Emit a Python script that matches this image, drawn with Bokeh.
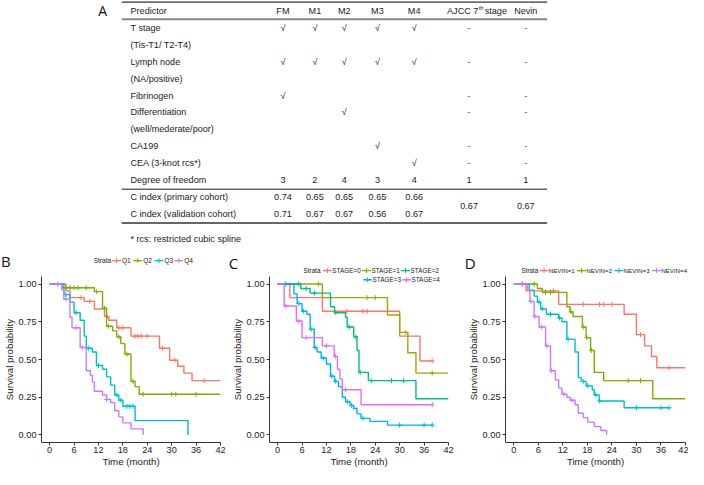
from bokeh.plotting import figure
from bokeh.models import Range1d, FixedTicker, NumeralTickFormatter
from bokeh.layouts import column, row
from bokeh.embed import file_html
from bokeh.resources import INLINE
from bokeh.core.properties import value

FONT = "Liberation Sans"
LETTER_FONT = "Open Sans"
INK = "#222222"

# ================= Panel A: model table =================
models = ["FM", "M1", "M2", "M3", "M4", "AJCC 7th stage", "Nevin"]
predictors = ["T stage", "(Tis-T1/ T2-T4)", "Lymph node", "(NA/positive)", "Fibrinogen",
              "Differentiation", "(well/mederate/poor)", "CA199", "CEA (3-knot rcs*)",
              "Degree of freedom"]
# predictor rows (index into predictors) ticked for each model
fm_rows = [0, 2, 4]
m1_rows = [0, 2]
m2_rows = [0, 2, 5]
m3_rows = [0, 2, 7]
m4_rows = [0, 2, 8]
staging_rows = [0, 2, 4, 5, 7, 8]          # "-" for AJCC 7th stage and Nevin
degrees_freedom = [3, 2, 4, 3, 4, 1, 1]
c_index_labels = ["C index (primary cohort)", "C index (validation cohort)"]
c_index_primary = [0.74, 0.65, 0.65, 0.65, 0.66]
c_index_validation = [0.71, 0.67, 0.67, 0.56, 0.67]
c_index_ajcc = 0.67
c_index_nevin = 0.67
footnote = "* rcs: restricted cubic spline"

# ================= Panel B: quartiles =================
b_strata = ["Q1", "Q2", "Q3", "Q4"]
b_q1_time = [0, 4, 5, 8.5, 11, 13.5, 14.5, 16.5, 20, 27, 29.5, 31.5, 33, 35]
b_q1_surv = [1.0, 0.955, 0.91, 0.885, 0.835, 0.785, 0.76, 0.71, 0.655, 0.575, 0.495, 0.455, 0.41, 0.36]
b_q1_cens = [7.7, 9.9, 14.1, 17, 18, 21, 21.7, 22.5, 24, 27.7, 30.8, 38]
b_q1_last = 42
b_q2_time = [0, 3, 11, 13, 14, 15.5, 16.5, 17.5, 18.5, 20, 21, 22]
b_q2_surv = [1.0, 0.975, 0.95, 0.84, 0.72, 0.69, 0.65, 0.605, 0.535, 0.355, 0.32, 0.27]
b_q2_cens = [4, 5, 6, 7, 9, 11.5, 13.5, 14.5, 17, 19, 20.5, 23, 30, 31, 36]
b_q2_last = 42
b_q3_time = [0, 3.5, 5, 6, 7.5, 8.5, 9, 10.5, 11.5, 13, 14, 15, 16, 17, 18, 21, 34]
b_q3_surv = [1.0, 0.93, 0.88, 0.81, 0.76, 0.655, 0.575, 0.55, 0.46, 0.435, 0.385, 0.33, 0.265, 0.23, 0.19, 0.095, 0.0]
b_q3_cens = [4, 6.5, 9.5, 12, 16.5, 17.5, 19, 19.7, 20.5]
b_q3_last = 34
b_q4_time = [0, 3, 3.5, 5, 5.5, 7.5, 9, 10, 10.5, 11, 13, 14, 15, 16, 17, 18, 20, 23]
b_q4_surv = [1.0, 0.96, 0.90, 0.78, 0.71, 0.58, 0.425, 0.395, 0.35, 0.29, 0.265, 0.235, 0.215, 0.16, 0.12, 0.08, 0.04, 0.0]
b_q4_cens = [2, 4, 6.5, 8, 14]
b_q4_last = 23

# ================= Panel C: AJCC stage =================
c_strata = ["STAGE=0", "STAGE=1", "STAGE=2", "STAGE=3", "STAGE=4"]
c_s0_time = [0, 3, 11, 30, 35]
c_s0_surv = [1.0, 0.91, 0.82, 0.655, 0.49]
c_s0_cens = [17, 21, 22, 38]
c_s0_last = 38
c_s1_time = [0, 11, 27, 30, 32, 34]
c_s1_surv = [1.0, 0.91, 0.795, 0.68, 0.545, 0.41]
c_s1_cens = [10, 22, 24, 31.5, 38]
c_s1_last = 42
c_s2_time = [0, 5.7, 8, 13, 14, 16.7, 17.1, 18.7, 19.5, 20, 22.3, 34]
c_s2_surv = [1.0, 0.97, 0.94, 0.85, 0.81, 0.78, 0.715, 0.65, 0.56, 0.415, 0.36, 0.24]
c_s2_cens = [5.2, 7, 9.1, 14.3, 17.6, 19.2, 20.3, 23, 28, 31]
c_s2_last = 42
c_s3_time = [0, 4, 4.8, 6, 7.2, 8, 9, 9.7, 10.7, 12, 13, 14, 15, 15.9, 16.7, 17.8, 18.7, 19.5, 20.5, 22.7, 27]
c_s3_surv = [1.0, 0.935, 0.87, 0.82, 0.80, 0.70, 0.58, 0.55, 0.51, 0.47, 0.39, 0.355, 0.32, 0.25, 0.22, 0.195, 0.175, 0.14, 0.11, 0.09, 0.065]
c_s3_cens = [2, 5.2, 6.3, 8.2, 9.2, 11.2, 13.3, 14.3, 17.2, 18.2, 21, 30, 36, 38]
c_s3_last = 38
c_s4_time = [0, 1.6, 4.6, 6, 11, 13.9, 14.7, 15.3, 15.9, 20.5]
c_s4_surv = [1.0, 0.855, 0.755, 0.645, 0.59, 0.52, 0.435, 0.37, 0.30, 0.20]
c_s4_cens = [2, 5.2, 7, 12, 14.2, 16.7, 38]
c_s4_last = 38

# ================= Panel D: Nevin =================
d_strata = ["NEVIN=1", "NEVIN=2", "NEVIN=3", "NEVIN=4"]
d_n1_time = [0, 3, 11, 27, 30, 32, 33.7, 35]
d_n1_surv = [1.0, 0.955, 0.865, 0.80, 0.665, 0.59, 0.52, 0.445]
d_n1_cens = [2.2, 9.7, 17, 21, 22, 24, 31, 38]
d_n1_last = 42
d_n2_time = [0, 5.8, 7, 13, 13.8, 14.5, 16.8, 17.7, 18.8, 19.7, 22, 34]
d_n2_surv = [1.0, 0.97, 0.945, 0.85, 0.815, 0.785, 0.715, 0.645, 0.56, 0.415, 0.36, 0.24]
d_n2_cens = [5, 7.8, 9, 14, 17, 17.9, 19, 28, 31]
d_n2_last = 42
d_n3_time = [0, 3.8, 5, 5.8, 6.6, 8, 11, 11.8, 13, 15, 15.8, 16.5, 17.7, 19.2, 19.7, 20.9, 27]
d_n3_surv = [1.0, 0.96, 0.92, 0.88, 0.835, 0.80, 0.775, 0.75, 0.635, 0.55, 0.38, 0.355, 0.325, 0.30, 0.265, 0.225, 0.18]
d_n3_cens = [6.2, 7, 9, 11.2, 13.3, 17, 18.1, 20.1, 21, 30, 36, 38]
d_n3_last = 38
d_n4_time = [0, 3.4, 4, 5, 6.2, 7.8, 9, 10.2, 11, 11.8, 13, 13.8, 15, 15.8, 17, 18.1, 19.7, 21.3, 22.7]
d_n4_surv = [1.0, 0.96, 0.885, 0.785, 0.715, 0.59, 0.425, 0.365, 0.31, 0.27, 0.25, 0.23, 0.2, 0.145, 0.115, 0.085, 0.055, 0.03, 0.0]
d_n4_cens = [2, 4.2, 5.2, 6.8, 8.1, 9.2, 12.3, 14.3]
d_n4_last = 22.7

time_ticks = [0, 6, 12, 18, 24, 30, 36, 42]
surv_ticks = [0, 0.25, 0.5, 0.75, 1.0]

HUE4 = ["#F8766D", "#7CAE00", "#00BFC4", "#C77CFF"]
HUE5 = ["#F8766D", "#A3A500", "#00BF7D", "#00B0F6", "#E76BF3"]

# ---------------- geometry (layout only) ----------------
SX = 688 / 704.0
SY = 0.967
TOP_H = 276          # table + strip holding panel letters / strata keys
KM_H = 193           # survival figures (frame + bottom axis)
KM_BOTTOM = 25
PX_PER_MONTH = 4.19  # reference pixels per month inside a survival frame

# ================= top figure: table + key strip =================
T = figure(width=688, height=TOP_H, x_range=Range1d(0, 704), y_range=Range1d(TOP_H / SY, 0),
           x_axis_type=None, y_axis_type=None, output_backend="svg", toolbar_location=None,
           min_border=0, outline_line_color=None)
T.xgrid.visible = False
T.ygrid.visible = False

col_x = [289, 321.7, 351.7, 385.7, 423.3, 479.5, 537.5]
label_x = 133
header_y = 10.7
row0_y = 28.3
row_dy = 17.5
tfs = "9.1px"

def row_y(i):
    return row0_y + row_dy * i

def ttext(xs, ys, texts, align="center", size=tfs, color=INK, font=FONT):
    T.text(x=xs, y=ys, text=texts, text_font=value(font), text_font_size=size,
           text_align=align, text_baseline="middle", text_color=color)

# rules
T.segment(x0=[124], y0=[1.7], x1=[559.3], y1=[1.7], line_color="#333333", line_width=1.2)
T.segment(x0=[124], y0=[19.4], x1=[559.3], y1=[19.4], line_color="#888888", line_width=2)
T.segment(x0=[124], y0=[195.2], x1=[559.3], y1=[195.2], line_color="#666666", line_width=1.5)
T.segment(x0=[124], y0=[230], x1=[559.3], y1=[230], line_color="#333333", line_width=1.5)

ttext([100], [10.5], ["A"], align="left", size="14px", color="#111111", font=LETTER_FONT)

ttext([label_x], [header_y], ["Predictor"], align="left")
for j, m in enumerate(models):
    if "7th" in m:
        pre, post = m.split("th", 1)
        ttext([col_x[j] + 9.5], [header_y], [pre], align="right")
        ttext([col_x[j] + 9.8], [header_y - 2.8], ["th"], align="left", size="5.8px")
        ttext([col_x[j] + 16], [header_y], [post.strip()], align="left")
    else:
        ttext([col_x[j]], [header_y], [m])

ttext([label_x] * len(predictors), [row_y(i) for i in range(len(predictors))], predictors, align="left")

for j, rows_ in enumerate([fm_rows, m1_rows, m2_rows, m3_rows, m4_rows]):
    ttext([col_x[j]] * len(rows_), [row_y(i) for i in rows_], ["\u221a"] * len(rows_))
for j in (5, 6):
    ttext([col_x[j]] * len(staging_rows), [row_y(i) for i in staging_rows], ["-"] * len(staging_rows),
          color="#555555")

df_row = len(predictors) - 1
ttext(col_x, [row_y(df_row)] * len(col_x), [str(v) for v in degrees_freedom])

ci_y1 = row_y(df_row + 1)
ci_y2 = row_y(df_row + 2)
ttext([label_x, label_x], [ci_y1, ci_y2], c_index_labels, align="left")
ttext(col_x[:5], [ci_y1] * 5, ["%.2f" % v for v in c_index_primary])
ttext(col_x[:5], [ci_y2] * 5, ["%.2f" % v for v in c_index_validation])
ttext([col_x[5], col_x[6]], [(ci_y1 + ci_y2) / 2] * 2, ["%.2f" % c_index_ajcc, "%.2f" % c_index_nevin])

ttext([label_x], [246.5], [footnote], align="left")


def key_row(fig, gx, y, labels, colors, size, glyph_w, text_dx):
    """one row of strata keys (line + censor cross + label)"""
    fig.segment(x0=gx, y0=[y] * len(gx), x1=[g + glyph_w for g in gx], y1=[y] * len(gx),
                line_color=colors, line_width=1.4)
    fig.scatter(x=[g + glyph_w / 2 for g in gx], y=[y] * len(gx), marker="cross", size=5,
                line_color=colors, line_width=1)
    fig.text(x=[g + text_dx for g in gx], y=[y] * len(gx), text=labels, text_font=value(FONT),
             text_font_size=size, text_align="left", text_baseline="middle", text_color=INK)


# panel letters and strata keys (reference-pixel layout)
ttext([0.5], [269], ["B"], align="left", size="15px", color="#111111", font=LETTER_FONT)
ttext([233.5], [271.7], ["C"], align="left", size="15px", color="#111111", font=LETTER_FONT)
ttext([475], [271.7], ["D"], align="left", size="15px", color="#111111", font=LETTER_FONT)

ttext([113.3], [269], ["Strata"], align="right", size="6.6px")
key_row(T, [114.3, 136, 157.7, 178], 269, b_strata, HUE4, "6.6px", 9, 10)
ttext([327.5], [279.3], ["Strata"], align="right", size="6.4px")
key_row(T, [330, 370, 410], 279.3, c_strata[:3], HUE5[:3], "6.4px", 9, 9.5)
ttext([550.3], [279.3], ["Strata"], align="right", size="6.3px")
key_row(T, [551.7, 590, 628.3, 666.7], 279.3, d_strata, HUE4, "6.2px", 9, 9.3)


# ================= KM panels =================
def surv_at(times, survs, t):
    s = survs[0]
    for ti, si in zip(times, survs):
        if ti <= t:
            s = si
    return s


def km_panel(fig_w, border_l, border_r, curves, colors):
    p = figure(width=fig_w, height=KM_H, x_range=Range1d(-2, 42), y_range=Range1d(-0.05, 1.05),
               output_backend="svg", toolbar_location=None,
               min_border_left=border_l, min_border_right=border_r,
               min_border_top=0, min_border_bottom=KM_BOTTOM,
               x_axis_label="Time (month)", y_axis_label="Survival probability")
    p.outline_line_color = None
    p.xgrid.visible = False
    p.ygrid.visible = False
    p.xaxis.ticker = FixedTicker(ticks=time_ticks)
    p.yaxis.ticker = FixedTicker(ticks=surv_ticks)
    p.yaxis.formatter = NumeralTickFormatter(format="0.00")
    for ax in (p.xaxis[0], p.yaxis[0]):
        ax.axis_line_color = "#333333"
        ax.axis_line_width = 1
        ax.major_tick_line_color = "#333333"
        ax.major_tick_out = 3
        ax.major_tick_in = 0
        ax.minor_tick_line_color = None
        ax.major_label_text_font = FONT
        ax.major_label_text_font_size = "9.2px"
        ax.major_label_text_color = INK
        ax.major_label_standoff = 2
        ax.axis_label_text_font = FONT
        ax.axis_label_text_font_size = "9.7px"
        ax.axis_label_text_font_style = "normal"
        ax.axis_label_text_color = INK
    p.xaxis.axis_label_standoff = 0
    p.xaxis.major_label_standoff = 1
    p.yaxis.axis_label_standoff = 1

    for (name, times, survs, cens, last), color in zip(curves, colors):
        xs = list(times) + [last]
        ys = list(survs) + [survs[-1]]
        p.step(xs, ys, mode="after", line_color=color, line_width=1.4)
        cy = [surv_at(times, survs, t) for t in cens]
        p.scatter(cens, cy, marker="cross", size=5, line_color=color, line_width=1)
    return p


b_curves = [
    (b_strata[0], b_q1_time, b_q1_surv, b_q1_cens, b_q1_last),
    (b_strata[1], b_q2_time, b_q2_surv, b_q2_cens, b_q2_last),
    (b_strata[2], b_q3_time, b_q3_surv, b_q3_cens, b_q3_last),
    (b_strata[3], b_q4_time, b_q4_surv, b_q4_cens, b_q4_last),
]
c_curves = [
    (c_strata[0], c_s0_time, c_s0_surv, c_s0_cens, c_s0_last),
    (c_strata[1], c_s1_time, c_s1_surv, c_s1_cens, c_s1_last),
    (c_strata[2], c_s2_time, c_s2_surv, c_s2_cens, c_s2_last),
    (c_strata[3], c_s3_time, c_s3_surv, c_s3_cens, c_s3_last),
    (c_strata[4], c_s4_time, c_s4_surv, c_s4_cens, c_s4_last),
]
d_curves = [
    (d_strata[0], d_n1_time, d_n1_surv, d_n1_cens, d_n1_last),
    (d_strata[1], d_n2_time, d_n2_surv, d_n2_cens, d_n2_last),
    (d_strata[2], d_n3_time, d_n3_surv, d_n3_cens, d_n3_last),
    (d_strata[3], d_n4_time, d_n4_surv, d_n4_cens, d_n4_last),
]

B = km_panel(228, 40, 8, b_curves, HUE4)
C = km_panel(230, 40, 10, c_curves, HUE5)
D = km_panel(230, 47, 3, d_curves, HUE4)

# second key row of panel C sits just inside the top of its frame
c_zero_ref = 281.7            # reference x of month 0 in panel C
c_row2_gx = [(g - c_zero_ref) / PX_PER_MONTH for g in (370, 410)]
key_row(C, c_row2_gx, 1.028, c_strata[3:], HUE5[3:], "6.4px", 9 / PX_PER_MONTH, 9.5 / PX_PER_MONTH)

layout = column(T, row(B, C, D, spacing=0), spacing=0)
open("out.html", "w").write(file_html(layout, INLINE))
